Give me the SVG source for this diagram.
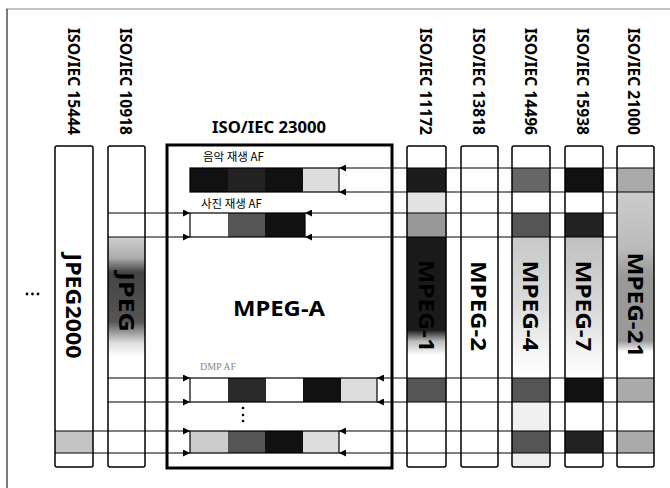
<svg xmlns="http://www.w3.org/2000/svg" width="670" height="488" viewBox="0 0 670 488">
<defs>
<marker id="ah" markerUnits="userSpaceOnUse" markerWidth="7" markerHeight="7" refX="7" refY="3.5" orient="auto">
<path d="M0,0 L7,3.5 L0,7 z" fill="#000"/>
</marker>
<linearGradient id="g11172" x1="0" y1="0" x2="0" y2="1">
<stop offset="0" stop-color="#1a1a1a"/><stop offset="0.66" stop-color="#1a1a1a"/><stop offset="0.74" stop-color="#bbb"/><stop offset="0.84" stop-color="#fff"/><stop offset="1" stop-color="#fff"/>
</linearGradient>
<linearGradient id="g10918" x1="0" y1="0" x2="0" y2="1">
<stop offset="0" stop-color="#d0d0d0"/><stop offset="0.15" stop-color="#aaa"/><stop offset="0.25" stop-color="#444"/><stop offset="0.6" stop-color="#555"/><stop offset="0.75" stop-color="#ddd"/><stop offset="0.85" stop-color="#fff"/><stop offset="1" stop-color="#fff"/>
</linearGradient>
<linearGradient id="g14496" x1="0" y1="0" x2="0" y2="1">
<stop offset="0" stop-color="#c8c8c8"/><stop offset="0.5" stop-color="#ddd"/><stop offset="0.8" stop-color="#f4f4f4"/><stop offset="1" stop-color="#fff"/>
</linearGradient>
<linearGradient id="g15938" x1="0" y1="0" x2="0" y2="1">
<stop offset="0" stop-color="#c0c0c0"/><stop offset="0.5" stop-color="#d8d8d8"/><stop offset="0.8" stop-color="#f2f2f2"/><stop offset="1" stop-color="#fff"/>
</linearGradient>
<linearGradient id="g21000" x1="0" y1="0" x2="0" y2="1">
<stop offset="0" stop-color="#ccc"/><stop offset="0.3" stop-color="#bbb"/><stop offset="0.45" stop-color="#999"/><stop offset="0.8" stop-color="#999"/><stop offset="0.86" stop-color="#fff"/><stop offset="1" stop-color="#fff"/>
</linearGradient>
</defs>
<style>
.col{fill:none;stroke:#000;stroke-width:1.5}
.iso{font-family:"Noto Sans","Liberation Sans",sans-serif;font-weight:bold;font-size:16px;fill:#000}
.big{font-family:"Noto Sans","Liberation Sans",sans-serif;font-weight:bold;font-size:21px;fill:#000}
.kr{font-family:"Noto Sans CJK KR","Noto Sans",sans-serif;font-size:11.5px;fill:#000}
.ln{stroke:#000;stroke-width:1.2;fill:none}
.arr{stroke:#000;stroke-width:1.2;fill:none;marker-end:url(#ah)}
.bar{stroke:#000;stroke-width:1.2}
</style>
<rect width="670" height="488" fill="#fff"/>
<g id="frame">
<line x1="6" y1="9" x2="670" y2="9" stroke="#888" stroke-width="1"/>
<line x1="7" y1="9" x2="7" y2="488" stroke="#222" stroke-width="1.2"/>
<circle cx="27" cy="294" r="1.4" fill="#000"/>
<circle cx="32.5" cy="294" r="1.4" fill="#000"/>
<circle cx="38" cy="294" r="1.4" fill="#000"/>
</g>

<g id="col-15444">
<rect x="55" y="431" width="38" height="22" fill="#c4c4c4"/>
<rect class="col" x="55" y="146" width="38" height="321" rx="2"/>
<text class="iso" transform="translate(74,28) rotate(90)" dominant-baseline="central" textLength="107" lengthAdjust="spacingAndGlyphs">ISO/IEC 15444</text>
<text class="big" transform="translate(74,306) rotate(90)" text-anchor="middle" dominant-baseline="central" textLength="105" lengthAdjust="spacingAndGlyphs">JPEG2000</text>
</g>

<g id="col-10918">
<rect x="108" y="237" width="37" height="141" fill="url(#g10918)"/>
<rect class="col" x="108" y="146" width="37" height="321" rx="2"/>
<text class="iso" transform="translate(126,28) rotate(90)" dominant-baseline="central" textLength="107" lengthAdjust="spacingAndGlyphs">ISO/IEC 10918</text>
<text class="big" transform="translate(127,302) rotate(90)" text-anchor="middle" dominant-baseline="central" textLength="60" lengthAdjust="spacingAndGlyphs" fill="#222">JPEG</text>
</g>

<g id="mpeg-a">
<rect x="167" y="145" width="225" height="323" fill="none" stroke="#000" stroke-width="3"/>
<text class="iso" x="269" y="133" text-anchor="middle" textLength="114" lengthAdjust="spacingAndGlyphs">ISO/IEC 23000</text>
<text class="big" x="279" y="316" text-anchor="middle" font-size="24" textLength="92" lengthAdjust="spacingAndGlyphs">MPEG-A</text>
</g>

<g id="af-music">
<text class="kr" x="203" y="161">음악 재생 AF</text>
<rect x="190" y="168" width="113" height="24" fill="#111"/>
<rect x="228" y="168" width="37" height="24" fill="#222"/>
<rect x="303" y="168" width="36" height="24" fill="#ddd"/>
<rect class="bar" x="190" y="168" width="149" height="24" fill="none"/>
</g>

<g id="af-photo">
<text class="kr" x="201" y="208">사진 재생 AF</text>
<rect x="190" y="213" width="38" height="24" fill="#fff"/>
<rect x="228" y="213" width="37" height="24" fill="#555"/>
<rect x="265" y="213" width="40" height="24" fill="#111"/>
<rect class="bar" x="190" y="213" width="115" height="24" fill="none"/>
</g>

<g id="af-dmp">
<text x="200" y="370" font-family="Liberation Serif, serif" font-size="10" fill="#888">DMP AF</text>
<rect x="190" y="378" width="38" height="24" fill="#fff"/>
<rect x="228" y="378" width="38" height="24" fill="#2a2a2a"/>
<rect x="266" y="378" width="37" height="24" fill="#fff"/>
<rect x="303" y="378" width="38" height="24" fill="#111"/>
<rect x="341" y="378" width="36" height="24" fill="#ddd"/>
<rect class="bar" x="190" y="378" width="187" height="24" fill="none"/>
<circle cx="243" cy="408" r="1.3" fill="#000"/>
<circle cx="243" cy="415" r="1.3" fill="#000"/>
<circle cx="243" cy="421" r="1.3" fill="#000"/>
</g>

<g id="af-last">
<rect x="190" y="431" width="38" height="22" fill="#ccc"/>
<rect x="228" y="431" width="37" height="22" fill="#555"/>
<rect x="265" y="431" width="38" height="22" fill="#111"/>
<rect x="303" y="431" width="36" height="22" fill="#ddd"/>
<rect class="bar" x="190" y="431" width="149" height="22" fill="none"/>
</g>

<g id="col-11172">
<rect x="407" y="168" width="39" height="24" fill="#1c1c1c"/>
<rect x="407" y="192" width="39" height="21" fill="#e2e2e2"/>
<rect x="407" y="213" width="39" height="24" fill="#999"/>
<rect x="407" y="237" width="39" height="141" fill="url(#g11172)"/>
<rect x="407" y="378" width="39" height="24" fill="#555"/>
<rect class="col" x="407" y="146" width="39" height="321" rx="2"/>
<text class="iso" transform="translate(426,28) rotate(90)" dominant-baseline="central" textLength="107" lengthAdjust="spacingAndGlyphs">ISO/IEC 11172</text>
<text class="big" transform="translate(427,306) rotate(90)" text-anchor="middle" dominant-baseline="central" textLength="92" lengthAdjust="spacingAndGlyphs">MPEG-1</text>
</g>

<g id="col-13818">
<rect class="col" x="461" y="146" width="37" height="321" rx="2"/>
<text class="iso" transform="translate(479,28) rotate(90)" dominant-baseline="central" textLength="107" lengthAdjust="spacingAndGlyphs">ISO/IEC 13818</text>
<text class="big" transform="translate(479,306) rotate(90)" text-anchor="middle" dominant-baseline="central" textLength="90" lengthAdjust="spacingAndGlyphs">MPEG-2</text>
</g>

<g id="col-14496">
<rect x="512" y="168" width="38" height="24" fill="#666"/>
<rect x="512" y="213" width="38" height="24" fill="#555"/>
<rect x="512" y="237" width="38" height="141" fill="url(#g14496)"/>
<rect x="512" y="378" width="38" height="24" fill="#555"/>
<rect x="512" y="402" width="38" height="29" fill="#f0f0f0"/>
<rect x="512" y="431" width="38" height="22" fill="#555"/>
<rect x="512" y="453" width="38" height="14" fill="#eee"/>
<rect class="col" x="512" y="146" width="38" height="321" rx="2"/>
<text class="iso" transform="translate(531,28) rotate(90)" dominant-baseline="central" textLength="107" lengthAdjust="spacingAndGlyphs">ISO/IEC 14496</text>
<text class="big" transform="translate(531,306) rotate(90)" text-anchor="middle" dominant-baseline="central" textLength="91" lengthAdjust="spacingAndGlyphs">MPEG-4</text>
</g>

<g id="col-15938">
<rect x="565" y="168" width="38" height="24" fill="#111"/>
<rect x="565" y="213" width="38" height="24" fill="#222"/>
<rect x="565" y="237" width="38" height="141" fill="url(#g15938)"/>
<rect x="565" y="378" width="38" height="24" fill="#111"/>
<rect x="565" y="431" width="38" height="22" fill="#222"/>
<rect class="col" x="565" y="146" width="38" height="321" rx="2"/>
<text class="iso" transform="translate(583,28) rotate(90)" dominant-baseline="central" textLength="107" lengthAdjust="spacingAndGlyphs">ISO/IEC 15938</text>
<text class="big" transform="translate(584,306) rotate(90)" text-anchor="middle" dominant-baseline="central" textLength="91" lengthAdjust="spacingAndGlyphs">MPEG-7</text>
</g>

<g id="col-21000">
<rect x="617" y="168" width="37" height="24" fill="#aaa"/>
<rect x="617" y="192" width="37" height="186" fill="url(#g21000)"/>
<rect x="617" y="378" width="37" height="24" fill="#aaa"/>
<rect x="617" y="431" width="37" height="22" fill="#aaa"/>
<rect class="col" x="617" y="146" width="37" height="321" rx="2"/>
<text class="iso" transform="translate(634,28) rotate(90)" dominant-baseline="central" textLength="107" lengthAdjust="spacingAndGlyphs">ISO/IEC 21000</text>
<text class="big" transform="translate(636,305) rotate(90)" text-anchor="middle" dominant-baseline="central" textLength="105" lengthAdjust="spacingAndGlyphs">MPEG-21</text>
</g>

<g id="connectors">
<line class="arr" x1="654" y1="168" x2="339" y2="168"/>
<line class="arr" x1="654" y1="192" x2="339" y2="192"/>
<line class="arr" x1="108" y1="213" x2="190" y2="213"/>
<line class="arr" x1="108" y1="237" x2="190" y2="237"/>
<line class="arr" x1="617" y1="213" x2="305" y2="213"/>
<line class="arr" x1="617" y1="237" x2="305" y2="237"/>
<line class="arr" x1="108" y1="378" x2="190" y2="378"/>
<line class="arr" x1="108" y1="402" x2="190" y2="402"/>
<line class="arr" x1="654" y1="378" x2="377" y2="378"/>
<line class="arr" x1="654" y1="402" x2="377" y2="402"/>
<line class="arr" x1="55" y1="431" x2="190" y2="431"/>
<line class="arr" x1="55" y1="453" x2="190" y2="453"/>
<line class="arr" x1="654" y1="431" x2="339" y2="431"/>
<line class="arr" x1="654" y1="453" x2="339" y2="453"/>
</g>
</svg>
